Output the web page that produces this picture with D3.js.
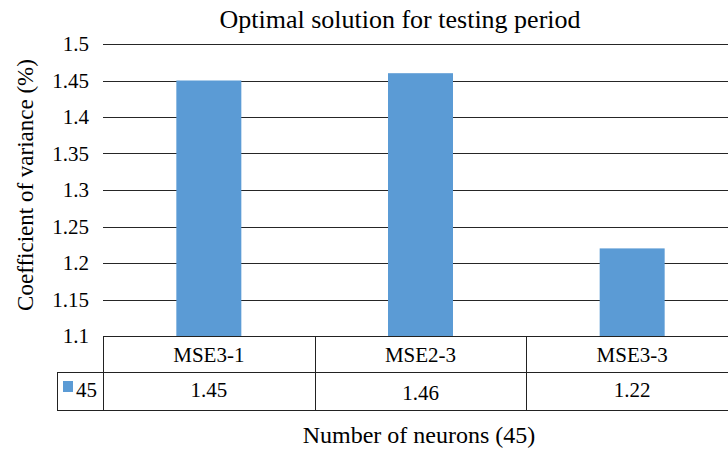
<!DOCTYPE html>
<html>
<head>
<meta charset="utf-8">
<script src="https://d3js.org/d3.v7.min.js"></script>
<style>
body{margin:0;background:#fff;}
</style>
</head>
<body>
<svg width="728" height="450" font-family="'Liberation Serif', 'Times New Roman', Times, serif"></svg>
<script>
var categories = ["MSE3-1", "MSE2-3", "MSE3-3"];
var values = [1.45, 1.46, 1.22];
var seriesName = "45";
var yTicks = [1.1, 1.15, 1.2, 1.25, 1.3, 1.35, 1.4, 1.45, 1.5];

var svg = d3.select("svg");
var plotLeft = 103, plotRight = 738, plotTop = 44, plotBottom = 336;
var rowMid = 372, rowBot = 410, legLeft = 57;
var barColor = "#5b9bd5";

var x = d3.scaleBand().domain(categories).range([plotLeft, plotRight]).paddingInner(0).paddingOuter(0);
var y = d3.scaleLinear().domain([1.1, 1.5]).range([plotBottom, plotTop]);

// gridlines
svg.selectAll("line.grid")
    .data(yTicks.slice(1))
    .enter().append("line")
    .attr("class", "grid")
    .attr("x1", plotLeft).attr("x2", plotRight)
    .attr("y1", function(d){ return Math.round(y(d)) + 0.5; })
    .attr("y2", function(d){ return Math.round(y(d)) + 0.5; })
    .attr("stroke", "#262626").attr("stroke-width", 1);

// tick labels
svg.selectAll("text.tick")
    .data(yTicks)
    .enter().append("text")
    .attr("class", "tick")
    .attr("x", 89)
    .attr("y", function(d){ return y(d) + 7; })
    .attr("text-anchor", "end")
    .style("font-size", "21px")
    .text(function(d){ return d; });

// bars
var bw = 65;
svg.selectAll("rect.bar")
    .data(values)
    .enter().append("rect")
    .attr("class", "bar")
    .attr("x", function(d, i){ return x(categories[i]) + x.bandwidth()/2 - bw/2; })
    .attr("y", function(d){ return y(d); })
    .attr("width", bw)
    .attr("height", function(d){ return plotBottom - y(d); })
    .attr("fill", barColor);

// data table
var tbl = svg.append("g").attr("stroke", "#222").attr("stroke-width", 1).attr("fill", "none");
tbl.append("line").attr("x1", plotLeft).attr("x2", plotRight).attr("y1", plotBottom + 0.5).attr("y2", plotBottom + 0.5);
tbl.append("line").attr("x1", legLeft).attr("x2", plotRight).attr("y1", rowMid + 0.5).attr("y2", rowMid + 0.5);
tbl.append("line").attr("x1", legLeft).attr("x2", plotRight).attr("y1", rowBot + 0.5).attr("y2", rowBot + 0.5);
tbl.append("line").attr("x1", legLeft + 0.5).attr("x2", legLeft + 0.5).attr("y1", rowMid).attr("y2", rowBot);
var bounds = [plotLeft].concat(categories.map(function(c){ return x(c) + x.bandwidth(); }));
tbl.selectAll("line.v")
    .data(bounds)
    .enter().append("line")
    .attr("class", "v")
    .attr("x1", function(d){ return Math.round(d) + 0.5; })
    .attr("x2", function(d){ return Math.round(d) + 0.5; })
    .attr("y1", plotBottom).attr("y2", rowBot);

svg.selectAll("text.cat")
    .data(categories)
    .enter().append("text")
    .attr("class", "cat")
    .attr("x", function(d){ return x(d) + x.bandwidth()/2; })
    .attr("y", 362)
    .attr("text-anchor", "middle")
    .style("font-size", "21px")
    .text(function(d){ return d; });

svg.selectAll("text.val")
    .data(values)
    .enter().append("text")
    .attr("class", "val")
    .attr("x", function(d, i){ return x(categories[i]) + x.bandwidth()/2; })
    .attr("y", function(d, i){ return i == 1 ? 400 : 397; })
    .attr("text-anchor", "middle")
    .style("font-size", "21px")
    .text(function(d){ return d.toFixed(2); });

// legend key in the table
svg.append("rect").attr("x", 63).attr("y", 381).attr("width", 10).attr("height", 11).attr("fill", barColor);
svg.append("text").attr("x", 76).attr("y", 397).style("font-size", "21px").text(seriesName);

// title and axis titles
svg.append("text").attr("x", 400).attr("y", 28).attr("text-anchor", "middle")
    .style("font-size", "26px").text("Optimal solution for testing period");
svg.append("text").attr("x", 419).attr("y", 443).attr("text-anchor", "middle")
    .style("font-size", "24px").text("Number of neurons (45)");
svg.append("text").attr("transform", "translate(33,185) rotate(-90)").attr("text-anchor", "middle")
    .style("font-size", "23px").text("Coefficient of variance (%)");
</script>
</body>
</html>
